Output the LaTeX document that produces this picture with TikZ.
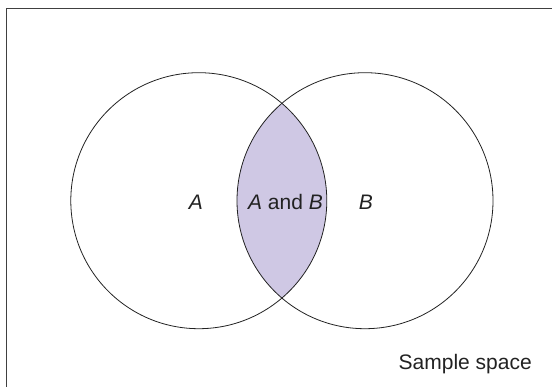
\documentclass[tikz,border=0pt]{standalone}
\usepackage{fontspec}
\setmainfont{Liberation Sans}
\definecolor{lensfill}{HTML}{CFC8E4}
\definecolor{inkc}{HTML}{222222}
\begin{document}
\begin{tikzpicture}[x=1pt,y=1pt,
  circ/.style={draw=inkc, line width=0.8pt},
  lbl/.style={font=\fontsize{21}{25}\selectfont, text=inkc, anchor=base, inner sep=0pt}]
\useasboundingbox (0,0) rectangle (552,386);
\clip (0,0) rectangle (552,386);
\draw[line width=1pt, draw=black!75] (6,-20) rectangle (580,377.5);
\coordinate (ca) at (198.8,185.3);
\coordinate (cb) at (365,185.3);
\begin{scope}
  \clip (ca) circle (128);
  \fill[lensfill] (cb) circle (128);
\end{scope}
\draw[circ] (ca) circle (128);
\draw[circ] (cb) circle (128);
\node[lbl] (la) at (196,176) {\itshape A};
\node[lbl] (lab) at (285.5,176) {\textit{A} and \textit{B}};
\node[lbl] (lb) at (366,176) {\itshape B};
\node[lbl, anchor=base east] (ss) at (532,17) {Sample space};
\end{tikzpicture}
\end{document}
